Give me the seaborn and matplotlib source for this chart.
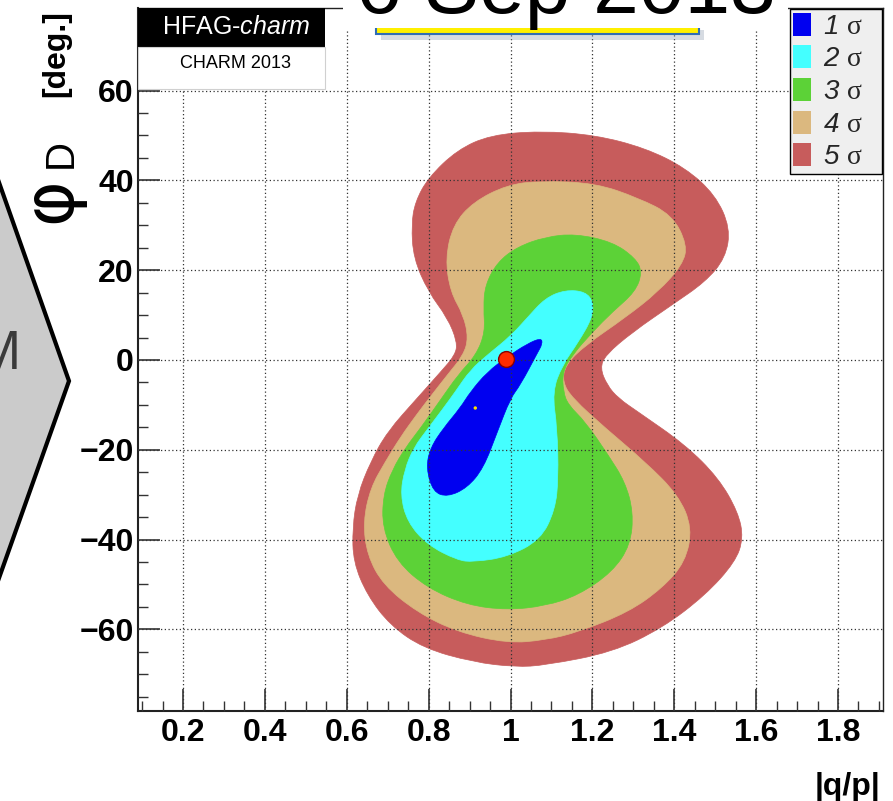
import numpy as np
import matplotlib
matplotlib.use("Agg")
import matplotlib.pyplot as plt
import seaborn as sns
from matplotlib.path import Path
from matplotlib.patches import PathPatch, Patch, Rectangle, Polygon
from matplotlib.ticker import MultipleLocator, FuncFormatter

# ---------------- data ----------------
sigma_labels = [r"$\mathsf{1}\ \mathrm{σ}$   ", r"$\mathsf{2}\ \mathrm{σ}$   ",
                r"$\mathsf{3}\ \mathrm{σ}$   ", r"$\mathsf{4}\ \mathrm{σ}$   ",
                r"$\mathsf{5}\ \mathrm{σ}$   "]

x_5sigma = [1.073, 1.207, 1.329, 1.427, 1.500, 1.537, 1.525, 1.476, 1.395, 1.298,
            1.232, 1.219, 1.236, 1.263, 1.312, 1.427, 1.508, 1.556, 1.569, 1.549,
            1.476, 1.371, 1.249, 1.085, 1.012, 0.909, 0.787, 0.706, 0.650, 0.616,
            0.614, 0.626, 0.658, 0.699, 0.772, 0.829, 0.865, 0.870, 0.846, 0.799,
            0.763, 0.758, 0.767, 0.799, 0.870, 0.951]
y_5sigma = [51.0, 50.1, 47.2, 42.8, 36.8, 29.4, 22.7, 17.4, 12.3, 6.2,
            1.1, -1.8, -5.6, -8.5, -11.6, -18.9, -26.3, -33.9, -39.7, -45.0,
            -52.4, -59.7, -65.1, -68.0, -68.4, -67.3, -64.2, -59.1, -52.4, -45.0,
            -37.4, -30.1, -22.7, -16.0, -8.5, -2.7, 1.1, 4.0, 9.4, 15.2,
            22.7, 30.1, 35.2, 40.6, 46.8, 50.1]

x_4sigma = [1.073, 1.207, 1.312, 1.395, 1.432, 1.420, 1.361, 1.280, 1.183, 1.134,
            1.127, 1.151, 1.232, 1.329, 1.410, 1.444, 1.427, 1.371, 1.288, 1.166,
            1.085, 0.992, 0.870, 0.772, 0.689, 0.650, 0.640, 0.658, 0.694, 0.731,
            0.772, 0.804, 0.846, 0.885, 0.897, 0.885, 0.853, 0.841, 0.860, 0.909,
            0.992]
y_4sigma = [39.9, 39.4, 36.1, 32.3, 25.6, 21.2, 15.2, 9.4, 3.3, -1.1,
            -4.9, -8.5, -15.2, -22.7, -30.1, -37.4, -45.0, -50.8, -56.2, -60.6,
            -62.4, -63.1, -60.6, -56.2, -50.1, -43.5, -36.1, -28.5, -22.7, -17.2,
            -12.0, -8.2, -3.3, 1.1, 4.9, 10.0, 15.2, 22.7, 30.1, 35.2,
            39.0]

x_3sigma = [1.085, 1.158, 1.249, 1.305, 1.322, 1.305, 1.249, 1.200, 1.151, 1.127,
            1.129, 1.141, 1.183, 1.239, 1.280, 1.300, 1.293, 1.249, 1.166, 1.085,
            0.992, 0.894, 0.797, 0.723, 0.687, 0.689, 0.711, 0.743, 0.780, 0.829,
            0.872, 0.916, 0.938, 0.934, 0.938, 0.968, 1.017]
y_3sigma = [27.4, 28.1, 26.3, 22.7, 19.6, 15.2, 10.7, 6.2, 1.1, -2.7,
            -7.1, -10.0, -13.8, -21.2, -27.2, -33.9, -41.2, -47.2, -52.4, -54.8,
            -55.7, -54.6, -50.8, -45.0, -37.4, -30.1, -24.5, -19.6, -15.2, -8.9,
            -3.3, 1.1, 6.2, 11.6, 16.7, 21.8, 25.2]

x_2sigma = [1.085, 1.134, 1.183, 1.202, 1.200, 1.166, 1.127, 1.102, 1.114, 1.117,
            1.109, 1.073, 0.992, 0.909, 0.870, 0.797, 0.748, 0.731, 0.741, 0.763,
            0.799, 0.833, 0.865, 0.902, 0.946, 1.000, 1.041]
y_2sigma = [13.8, 15.6, 15.2, 12.9, 9.4, 4.0, -1.1, -7.1, -15.2, -26.3,
            -33.4, -40.1, -43.9, -45.0, -44.6, -41.2, -36.1, -30.1, -24.5, -19.6,
            -15.2, -11.1, -7.1, -2.2, 1.3, 5.3, 9.4]

x_1sigma = [1.075, 1.078, 1.066, 1.024, 1.000, 0.968, 0.934, 0.894, 0.846, 0.811,
            0.794, 0.804, 0.836, 0.877, 0.902, 0.943, 0.992, 1.041]
y_1sigma = [4.9, 3.6, 1.6, -5.6, -8.5, -16.0, -24.1, -28.5, -30.5, -29.4,
            -24.1, -19.6, -15.2, -10.7, -7.1, -2.7, 0.7, 3.6]

best_fit_x = [0.99]
best_fit_y = [0.2]
no_cpv_x = [0.914]
no_cpv_y = [-10.7]

# ---------------- styles ----------------
sigma_colors = ["#0000f0", "#44ffff", "#5cd237", "#dbb87f", "#c75c5c"]

sns.set_style("white")
plt.rcParams.update({
    "font.family": ["Liberation Sans", "DejaVu Sans"],
    "mathtext.fontset": "custom",
    "mathtext.it": "Liberation Sans:italic",
    "mathtext.sf": "Liberation Sans:italic",
    "mathtext.rm": "Liberation Serif",
    "mathtext.bf": "Liberation Sans:bold",
    "axes.unicode_minus": True,
})

W, H = 893, 801
fig = plt.figure(figsize=(W / 100, H / 100), dpi=100)
fig.patch.set_facecolor("white")


def fx(px):
    return px / W


def fy(py):
    return 1 - py / H


ax = fig.add_axes([fx(138), fy(711), (883 - 138) / W, (711 - 8) / H])
ax.set_facecolor("white")


def smooth_closed(xs, ys):
    pts = np.column_stack([xs, ys])
    mids = (pts + np.roll(pts, -1, axis=0)) / 2
    verts = [mids[-1]]
    codes = [Path.MOVETO]
    for i in range(len(pts)):
        verts += [pts[i], mids[i]]
        codes += [Path.CURVE3, Path.CURVE3]
    verts.append(mids[-1])
    codes.append(Path.CLOSEPOLY)
    return Path(verts, codes)


contours = [(x_5sigma, y_5sigma), (x_4sigma, y_4sigma), (x_3sigma, y_3sigma),
            (x_2sigma, y_2sigma), (x_1sigma, y_1sigma)]
for k, (cx, cy) in enumerate(contours):
    col = sigma_colors[4 - k]
    ax.add_patch(PathPatch(smooth_closed(cx, cy), facecolor=col, edgecolor=col,
                           lw=0.5, zorder=1.0 + 0.1 * k))

sns.scatterplot(x=best_fit_x, y=best_fit_y, ax=ax, s=130, color="#ff2a00",
                edgecolor="#8a0000", linewidth=1.0, zorder=6, legend=False)
sns.scatterplot(x=no_cpv_x, y=no_cpv_y, ax=ax, s=6, color="#ffe000",
                edgecolor="none", zorder=6, legend=False)

ax.set_xlim(0.09, 1.91)
ax.set_ylim(-78.2, 78.4)
ax.xaxis.set_major_locator(MultipleLocator(0.2))
ax.xaxis.set_minor_locator(MultipleLocator(0.05))
ax.yaxis.set_major_locator(MultipleLocator(20))
ax.yaxis.set_minor_locator(MultipleLocator(5))
fmt = FuncFormatter(lambda v, p: f"{v:g}".replace("-", "\u2212"))
ax.xaxis.set_major_formatter(fmt)
ax.yaxis.set_major_formatter(fmt)

ax.set_axisbelow(False)
ax.grid(True, which="major", linestyle=(0, (1, 2)), color="#333333", lw=0.9)
ax.tick_params(which="both", direction="in", top=False, right=False,
               left=True, bottom=True, color="#333333", labelcolor="black")
ax.tick_params(which="major", length=16, width=1.2, labelsize=23)
ax.tick_params(axis="x", which="major", pad=5)
ax.tick_params(axis="y", which="major", pad=3)
ax.tick_params(which="minor", length=7.5, width=1.0)
for sp in ax.spines.values():
    sp.set_color("#222222")
    sp.set_linewidth(1.0)
ax.spines["left"].set_linewidth(1.5)
ax.spines["bottom"].set_linewidth(1.5)
ax.set_xlabel("")
ax.set_ylabel("")
plt.setp(ax.get_xticklabels(), fontweight="bold")
plt.setp(ax.get_yticklabels(), fontweight="bold")

handles = [Patch(facecolor=c, edgecolor="none") for c in sigma_colors]
leg = ax.legend(handles, sigma_labels, loc="upper right", bbox_to_anchor=(1.0, 1.0),
                borderaxespad=0.05, frameon=True, fancybox=False, edgecolor="black",
                facecolor="#efefef", framealpha=1, fontsize=20, handlelength=0.62,
                handleheight=0.9, handletextpad=0.43, labelspacing=0.2,
                borderpad=0.12)
leg.get_frame().set_linewidth(1.0)
leg.set_zorder(20)

# ---------------- decorations around the plot ----------------
# chevron from the slide
chev = Polygon([(fx(-60), fy(120)), (fx(-23), fy(120)), (fx(69), fy(381)),
                (fx(-23), fy(640)), (fx(-60), fy(640))], closed=True,
               transform=fig.transFigure, facecolor="#cbcbcb", edgecolor="black",
               lw=3, zorder=1)
fig.patches.append(chev)
fig.text(fx(21), fy(355), "M", ha="right", va="center", fontsize=40,
         color="#3a3a3a", zorder=2)

# white title strip
fig.patches.append(Rectangle((fx(343), fy(31)), fx(788) - fx(343), fy(0) - fy(31),
                             transform=fig.transFigure, facecolor="white",
                             edgecolor="none", zorder=1))
fig.patches.append(Rectangle((fx(381), fy(40)), fx(704) - fx(381), fy(30) - fy(40),
                             transform=fig.transFigure, facecolor="#8a9aae",
                             edgecolor="none", alpha=0.35, zorder=1.5))
fig.patches.append(Rectangle((fx(376), fy(34)), fx(699) - fx(376), fy(18) - fy(34),
                             transform=fig.transFigure, facecolor="#fff000",
                             edgecolor="#2f6db5", lw=1.5, zorder=2))
fig.patches.append(Rectangle((fx(343), fy(28)), fx(788) - fx(343), fy(0) - fy(28),
                             transform=fig.transFigure, facecolor="white",
                             edgecolor="none", zorder=2.5))
fig.text(fx(776), fy(13), "6 Sep 2013", ha="right", va="baseline", fontsize=59,
         color="black", zorder=3)

# HFAG logo
fig.patches.append(Rectangle((fx(138), fy(47)), fx(325) - fx(138), fy(8) - fy(47),
                             transform=fig.transFigure, facecolor="black",
                             edgecolor="none", zorder=1))
fig.patches.append(Rectangle((fx(138), fy(89)), fx(325) - fx(138), fy(47) - fy(89),
                             transform=fig.transFigure, facecolor="white",
                             edgecolor="#d0d0d0", lw=0.8, zorder=1))
fig.text(fx(236), fy(27), r"HFAG-$\mathit{charm}$", ha="center", va="center",
         fontsize=18, color="white", zorder=3)
fig.text(fx(236), fy(64), "CHARM 2013", ha="center", va="center",
         fontsize=13, color="black", zorder=3)

# axis titles
fig.text(fx(70), fy(200), "φ", rotation=90, rotation_mode="anchor", ha="center",
         va="baseline", fontsize=50, family="DejaVu Sans", color="black")
fig.text(fx(72), fy(153), "D", rotation=90, rotation_mode="anchor", ha="center",
         va="baseline", fontsize=29, color="black")
fig.text(fx(64), fy(54), "[deg.]", rotation=90, rotation_mode="anchor", ha="center",
         va="baseline", fontsize=23, fontweight="bold", color="black")
fig.text(fx(880), fy(772), "|q/p|", ha="right", va="top", fontsize=23,
         fontweight="bold", color="black")

fig.savefig("out.png", dpi=100)
